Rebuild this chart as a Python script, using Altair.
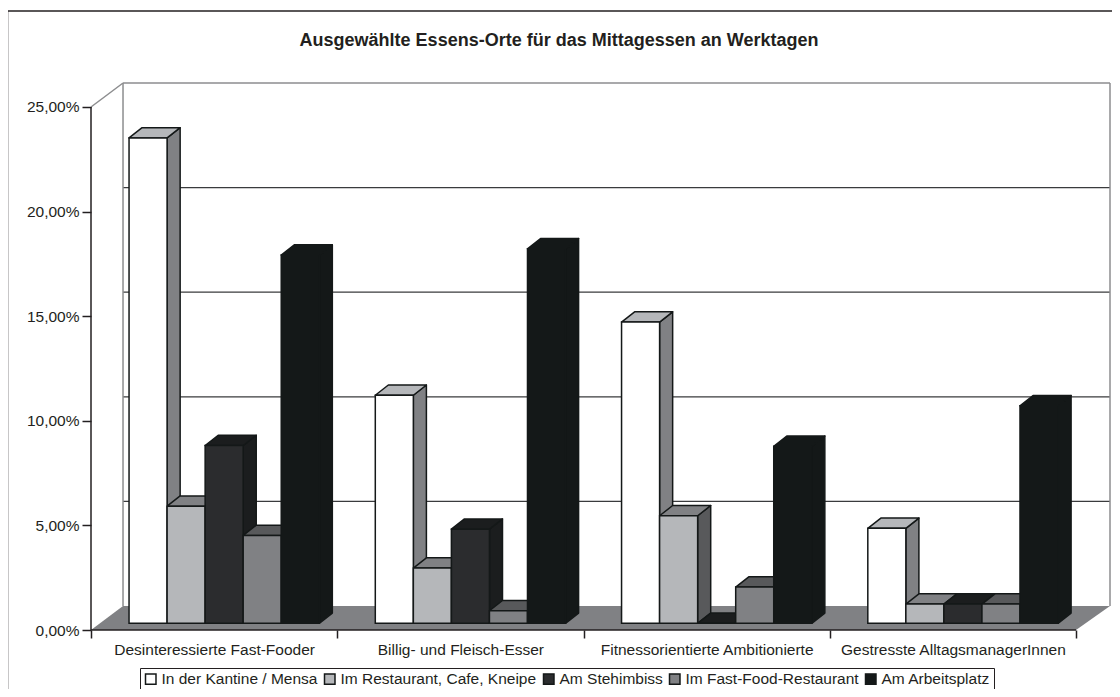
import altair as alt
import pandas as pd

title = "Ausgewählte Essens-Orte für das Mittagessen an Werktagen"
categories = ["Desinteressierte Fast-Fooder", "Billig- und Fleisch-Esser",
              "Fitnessorientierte Ambitionierte", "Gestresste AlltagsmanagerInnen"]
series = ["In der Kantine / Mensa", "Im Restaurant, Cafe, Kneipe", "Am Stehimbiss",
          "Im Fast-Food-Restaurant", "Am Arbeitsplatz"]
kantine = [23.2, 10.9, 14.4, 4.54]
restaurant = [5.6, 2.64, 5.14, 0.92]
stehimbiss = [8.5, 4.5, 0.0, 0.92]
fastfood = [4.2, 0.6, 1.73, 0.92]
arbeitsplatz = [17.6, 17.9, 8.46, 10.4]
values = [kantine, restaurant, stehimbiss, fastfood, arbeitsplatz]

front_cols = ["#ffffff", "#b5b7ba", "#2b2c2e", "#808184", "#141818"]
top_cols = ["#b5b7ba", "#808184", "#1b1d1e", "#58595b", "#141818"]
side_cols = ["#808184", "#58595b", "#1b1d1e", "#3a3b3d", "#141818"]
edge = "#141818"
ink = "#231f20"
wall = "#8c8d8f"
floor_col = "#808184"
font = "Liberation Sans"
fsize = 15.5

# 3-D geometry in data units (categories on x, percent on y)
gap, bar_w = 0.1545, 0.1545
bar_dx, bar_dy, base = 0.053, 0.49, 0.32
wall_dx, wall_dy = 0.13, 1.147
x_max, y_max = 4.138, 26.195

fronts, sides, tops = [], [], []
for c in range(len(categories)):
    for s, name in enumerate(series):
        v = values[s][c]
        x0 = c + gap + s * bar_w
        x1 = x0 + bar_w
        y1 = base + v
        bar = f"{c}-{s}"
        fronts.append(dict(series=name, x=x0, x2=x1, y=base, y2=y1))
        sides += [dict(bar=bar, col=side_cols[s], x=x1, y=base, y2=y1),
                  dict(bar=bar, col=side_cols[s], x=x1 + bar_dx, y=base + bar_dy, y2=y1 + bar_dy)]
        tops += [dict(bar=bar, col=top_cols[s], y=y1, x=x0, x2=x1),
                 dict(bar=bar, col=top_cols[s], y=y1 + bar_dy, x=x0 + bar_dx, x2=x1 + bar_dx)]

xs = alt.Scale(domain=[0, x_max], nice=False, zero=False)
ys = alt.Scale(domain=[0, y_max], nice=False, zero=False)
label_expr = "datum.value==0.5?'%s':datum.value==1.5?'%s':datum.value==2.5?'%s':datum.value==3.5?'%s':''" % tuple(categories)
x_axis = alt.Axis(values=[0, 0.5, 1, 1.5, 2, 2.5, 3, 3.5, 4], title=None, grid=False, domain=False,
                  labelExpr=label_expr, labelFont=font, labelFontSize=fsize, labelColor=ink,
                  labelPadding=4, tickSize=8, tickWidth=1.5, tickColor=ink, labelOverlap=False,
                  labelBound=False, labelFlush=False, labelLimit=0,
                  tickOpacity={"condition": {"test": "datum.value % 1 == 0", "value": 1}, "value": 0})
y_axis = alt.Axis(values=[0, 5, 10, 15, 20, 25], title=None, grid=False, domain=False,
                  labelExpr="replace(format(datum.value,'.2f'),'.',',')+'%'",
                  labelFont=font, labelFontSize=fsize, labelColor=ink,
                  labelPadding=3, tickSize=9, tickWidth=1.5, tickColor=ink)
X = alt.X("x:Q", scale=xs, axis=x_axis)
Y = alt.Y("y:Q", scale=ys, axis=y_axis, stack=None)

floor = alt.Chart(pd.DataFrame([
    dict(y=0, x=0, x2=4), dict(y=wall_dy, x=wall_dx, x2=x_max)
])).mark_area(orient="horizontal", color=floor_col).encode(X, Y, x2="x2:Q")

grid = alt.Chart(pd.DataFrame([dict(y=g + wall_dy, x=wall_dx, x2=x_max) for g in [5, 10, 15, 20]])).mark_rule(
    color="#3a3b3d", strokeWidth=1.2).encode(X, Y, x2="x2:Q")

wall_lines = pd.DataFrame([
    dict(k="a", x=0, y=25), dict(k="a", x=wall_dx, y=25 + wall_dy),
    dict(k="b", x=wall_dx, y=25 + wall_dy), dict(k="b", x=x_max, y=25 + wall_dy),
    dict(k="c", x=wall_dx, y=wall_dy), dict(k="c", x=wall_dx, y=25 + wall_dy),
    dict(k="d", x=x_max, y=wall_dy), dict(k="d", x=x_max, y=25 + wall_dy),
])
walls = alt.Chart(wall_lines).mark_line(color=wall, strokeWidth=1.5).encode(X, Y, detail="k:N", order="y:Q")

axis_lines = pd.DataFrame([
    dict(k="a", x=0, y=0), dict(k="a", x=0, y=25),
    dict(k="b", x=0, y=0), dict(k="b", x=4, y=0),
])
axes = alt.Chart(axis_lines).mark_line(color=ink, strokeWidth=1.5).encode(X, Y, detail="k:N")

side_layer = alt.Chart(pd.DataFrame(sides)).mark_area(
    orient="vertical", stroke=edge, strokeWidth=1.5, strokeJoin="round").encode(
    X, Y, y2="y2:Q", detail="bar:N", fill=alt.Fill("col:N", scale=None))
top_layer = alt.Chart(pd.DataFrame(tops)).mark_area(
    orient="horizontal", stroke=edge, strokeWidth=1.5, strokeJoin="round").encode(
    X, Y, x2="x2:Q", detail="bar:N", fill=alt.Fill("col:N", scale=None))
front_layer = alt.Chart(pd.DataFrame(fronts)).mark_rect(stroke=edge, strokeWidth=1.5).encode(
    X, Y, x2="x2:Q", y2="y2:Q",
    fill=alt.Fill("series:N", scale=alt.Scale(domain=series, range=front_cols), sort=series,
                  legend=alt.Legend(orient="none", legendX=49, legendY=586, direction="horizontal",
                                    columns=5, title=None, symbolType="square", symbolSize=110,
                                    symbolStrokeColor=edge, symbolStrokeWidth=1.5, symbolOpacity=1,
                                    labelFont=font, labelFontSize=fsize, labelColor=ink,
                                    labelOffset=3, columnPadding=3, padding=3, strokeColor=ink,
                                    fillColor="#ffffff", labelLimit=300)))

frame_top = alt.Chart().mark_rule(color=ink, strokeWidth=1.5).encode(
    x=alt.value(-84), x2=alt.value(1021), y=alt.value(-71))
frame_left = alt.Chart().mark_rule(color=ink, strokeWidth=1.5).encode(
    x=alt.value(-83.5), y=alt.value(-71), y2=alt.value(607))
title_mark = alt.Chart().mark_text(text=title, font=font, fontSize=18, fontWeight="bold", color=ink,
                                   align="center", baseline="middle").encode(
    x=alt.value(468), y=alt.value(-41))

chart = alt.layer(frame_top, frame_left, title_mark, floor, grid, walls, axes, side_layer, top_layer, front_layer).resolve_scale(
    fill="independent"
).properties(
    width=1019, height=548,
    autosize=alt.AutoSizeParams(type="none"),
    padding={"left": 83, "top": 74, "right": 2, "bottom": 59},
    background="#ffffff",
).configure_view(stroke=None)

chart.save("out.html", embed_options={"renderer": "svg", "actions": False})
